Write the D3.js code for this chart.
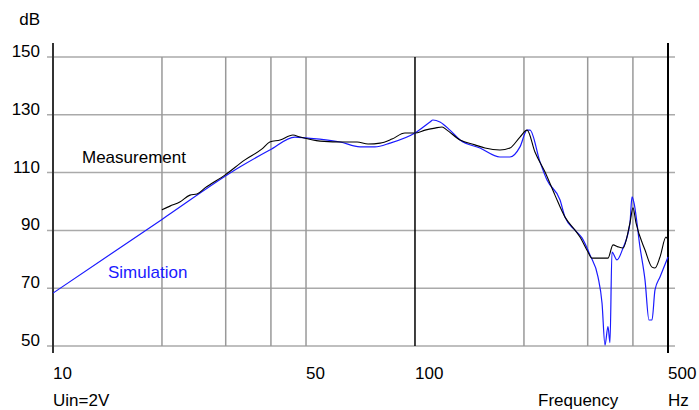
<!DOCTYPE html>
<html>
<head>
<meta charset="utf-8">
<script src="https://cdn.jsdelivr.net/npm/d3@7"></script>
<style>
  body { margin: 0; background: #fff; }
  text { font-family: "Liberation Sans", Arial, sans-serif; font-size: 17px; }
</style>
</head>
<body>
<div id="chart"></div>
<script>
var width = 699,
    height = 410;

// frequency (Hz) / level (dB)
var simFreq = [10, 20, 32.9, 39.7, 46.6, 50, 62.1, 70.5, 77.5, 85.3, 100, 110, 112.1, 117.2, 124.9,
  133.2, 151.2, 171.7, 183, 195, 204, 207.8, 221.5, 231.6, 251.6, 259.7, 276.7, 289.3, 304.4, 320.3,
  328.6, 334.9, 341.3, 345.7, 350.1, 361.4, 375.5, 392.6, 397.6, 402.7, 418.3, 432, 443, 451.6, 460.3, 475.2, 500];
var simDb = [68.3, 93.8, 112.0, 117.8, 122.3, 122.0, 120.6, 118.9, 118.9, 120.2, 123.7, 127.5, 128.2, 127.5, 124.7,
  121.3, 118.5, 115.4, 115.4, 118.9, 124.7, 124.7, 113.7, 107.4, 100.5, 94.6, 90.1, 87.4, 81.5, 73.9,
  64.9, 50.3, 56.7, 51.2, 82.5, 79.8, 83.9, 92.6, 101.6, 99.5, 84.3, 72.8, 59.0, 59.0, 69.4, 73.9, 80.8];

var measFreq = [20, 21.04, 22.4, 23.9, 25, 26.3, 29.9, 33.9, 37.8, 39.7, 42.4, 46, 48.1, 54.7, 64.1, 69.2,
  74.2, 80.1, 86.4, 93.8, 100, 106.6, 113.6, 118.8, 122.6, 133.2, 146.4, 156.1, 171.7, 183, 195, 204,
  214.5, 228.7, 243.6, 259.7, 276.7, 285.6, 300.6, 308.3, 324.3, 341.3, 352.4, 363.8, 375.5, 392.6,
  400.2, 407.9, 432, 451.6, 460.3, 475.2, 493.6, 500];
var measDb = [97.1, 98.4, 99.8, 102.2, 102.6, 104.7, 109.2, 114.4, 118.2, 120.6, 121.3, 123.0, 122.3, 120.9, 120.6, 120.6,
  119.9, 120.2, 121.6, 123.7, 123.7, 124.7, 125.4, 125.8, 124.7, 121.3, 119.6, 118.5, 117.8, 118.5, 122.3, 124.7,
  117.1, 110.2, 102.2, 94.6, 90.1, 87.7, 82.5, 80.4, 80.4, 80.4, 85.0, 84.3, 83.9, 92.6,
  97.8, 92.6, 83.2, 77.3, 77.0, 80.8, 87.7, 86.7];

var yTicks = [50, 70, 90, 110, 130, 150];
var xGrid = [20, 30, 40, 50, 200, 300, 400];
var xDark = [100];
var xLabels = [10, 50, 100, 500];

var x = d3.scaleLog()
    .domain([10, 500])
    .range([53, 668]);

var y = d3.scaleLinear()
    .domain([50, 150])
    .range([346, 57]);

var svg = d3.select("#chart").append("svg")
    .attr("width", width)
    .attr("height", height);

var g = svg.append("g");

// horizontal grid
g.selectAll("line.hgrid")
    .data(yTicks)
  .enter().append("line")
    .attr("class", "hgrid")
    .attr("x1", 47)
    .attr("x2", 675)
    .attr("y1", function(d) { return y(d); })
    .attr("y2", function(d) { return y(d); })
    .style("stroke", "#aaa")
    .style("stroke-width", 1.5);

// vertical grid
g.selectAll("line.vgrid")
    .data(xGrid)
  .enter().append("line")
    .attr("class", "vgrid")
    .attr("x1", function(d) { return x(d); })
    .attr("x2", function(d) { return x(d); })
    .attr("y1", y(150))
    .attr("y2", y(50))
    .style("stroke", "#999")
    .style("stroke-width", 1.5);

g.selectAll("line.vdark")
    .data(xDark)
  .enter().append("line")
    .attr("class", "vdark")
    .attr("x1", function(d) { return x(d); })
    .attr("x2", function(d) { return x(d); })
    .attr("y1", y(150))
    .attr("y2", y(50))
    .style("stroke", "#000")
    .style("stroke-width", 1.5);

// left / right axis lines
g.append("line")
    .attr("x1", x(10)).attr("x2", x(10))
    .attr("y1", 43).attr("y2", 353)
    .style("stroke", "#333")
    .style("stroke-width", 2);

g.append("line")
    .attr("x1", x(500)).attr("x2", x(500))
    .attr("y1", 43).attr("y2", 353)
    .style("stroke", "#000")
    .style("stroke-width", 2);

var line = d3.line()
    .curve(d3.curveMonotoneX)
    .x(function(d) { return x(d[0]); })
    .y(function(d) { return y(d[1]); });

svg.append("defs").append("clipPath")
    .attr("id", "clip")
  .append("rect")
    .attr("x", 53).attr("y", 40)
    .attr("width", 616).attr("height", 307);

g.append("path")
    .datum(d3.zip(simFreq, simDb))
    .attr("d", line)
    .attr("clip-path", "url(#clip)")
    .style("fill", "none")
    .style("stroke", "#1a1aff")
    .style("stroke-width", 1.2);

g.append("path")
    .datum(d3.zip(measFreq, measDb))
    .attr("d", line)
    .style("fill", "none")
    .style("stroke", "#000")
    .style("stroke-width", 1.1);

// y labels
g.selectAll("text.ylab")
    .data(yTicks)
  .enter().append("text")
    .attr("class", "ylab")
    .attr("x", 40)
    .attr("y", function(d) { return y(d); })
    .attr("text-anchor", "end")
    .text(function(d) { return d; });

// x labels
g.selectAll("text.xlab")
    .data(xLabels)
  .enter().append("text")
    .attr("class", "xlab")
    .attr("x", function(d) { return x(d); })
    .attr("y", 379)
    .text(function(d) { return d; });

svg.append("text").attr("x", 40).attr("y", 25).attr("text-anchor", "end").text("dB");
svg.append("text").attr("x", 668).attr("y", 406).text("Hz");
svg.append("text").attr("x", 538).attr("y", 406).text("Frequency");
svg.append("text").attr("x", 53).attr("y", 406).text("Uin=2V");
svg.append("text").attr("x", 82).attr("y", 163).text("Measurement");
svg.append("text").attr("x", 108).attr("y", 278).style("fill", "#1a1aff").text("Simulation");
</script>
</body>
</html>
